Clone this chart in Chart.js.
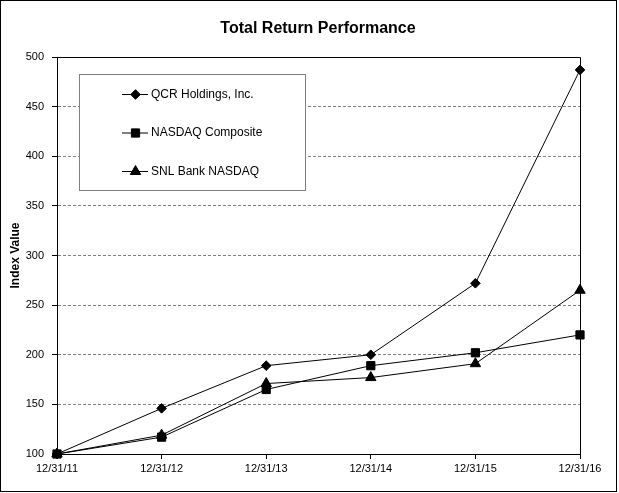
<!DOCTYPE html>
<html>
<head>
<meta charset="utf-8">
<script src="https://cdn.jsdelivr.net/npm/chart.js@4.4.1/dist/chart.umd.min.js"></script>
<style>
  html, body { margin: 0; padding: 0; background: #fff; }
  #wrap { width: 619px; height: 493px; }
</style>
</head>
<body>
<div id="wrap"><canvas id="c" width="619" height="493"></canvas></div>
<script>
const categories = ['12/31/11', '12/31/12', '12/31/13', '12/31/14', '12/31/15', '12/31/16'];
const qcrValues = [100, 146, 189, 200, 272, 487];
const nasdaqValues = [100, 117, 165, 189, 202, 220];
const snlValues = [100, 119, 171, 177, 191, 265];
const seriesNames = ['QCR Holdings, Inc.', 'NASDAQ Composite', 'SNL Bank NASDAQ'];
const yTicks = [100, 150, 200, 250, 300, 350, 400, 450, 500];
const chartTitle = 'Total Return Performance';

const FONT = '"Liberation Sans", Arial, Helvetica, sans-serif';

function ds(label, data, style, radius, order) {
  return {
    label: label,
    data: data,
    order: order,
    borderColor: '#000',
    backgroundColor: '#000',
    borderWidth: 1,
    pointStyle: style,
    pointRadius: radius,
    pointHoverRadius: radius,
    pointBackgroundColor: '#000',
    pointBorderColor: '#000',
    pointBorderWidth: 1,
    tension: 0,
    clip: false
  };
}

const bgPlugin = {
  id: 'bg',
  beforeDraw(chart) {
    const ctx = chart.ctx;
    ctx.save();
    ctx.fillStyle = '#fff';
    ctx.fillRect(0, 0, chart.width, chart.height);
    ctx.restore();
  },
  beforeDatasetsDraw(chart) {
    const ctx = chart.ctx, a = chart.chartArea;
    ctx.save();
    ctx.strokeStyle = '#000';
    ctx.lineWidth = 1;
    ctx.beginPath();
    ctx.moveTo(Math.round(a.left) + 0.5, Math.round(a.top) + 0.5);
    ctx.lineTo(Math.round(a.right) + 0.5, Math.round(a.top) + 0.5);
    ctx.lineTo(Math.round(a.right) + 0.5, Math.round(a.bottom) + 0.5);
    ctx.stroke();
    ctx.restore();
  },
  afterDraw(chart) {
    const ctx = chart.ctx;
    ctx.save();
    // outer frame
    ctx.strokeStyle = '#000';
    ctx.lineWidth = 1;
    ctx.strokeRect(0.5, 0.5, 616, 491);
    // title
    ctx.fillStyle = '#000';
    ctx.font = 'bold 16px ' + FONT;
    ctx.textAlign = 'center';
    ctx.textBaseline = 'alphabetic';
    ctx.fillText(chartTitle, 318, 33);
    // legend box
    const bx = 79.5, by = 74.5, bw = 226, bh = 116;
    ctx.fillStyle = '#fff';
    ctx.fillRect(bx, by, bw, bh);
    ctx.strokeStyle = '#808080';
    ctx.strokeRect(bx, by, bw, bh);
    const ys = [94, 132.5, 171];
    chart.data.datasets.forEach((d, i) => {
      const y = ys[i] + 0.5;
      ctx.strokeStyle = '#000';
      ctx.lineWidth = 1;
      ctx.beginPath();
      ctx.moveTo(122, y);
      ctx.lineTo(148, y);
      ctx.stroke();
      ctx.fillStyle = '#000';
      const opts = { pointStyle: d.pointStyle, radius: d.pointRadius, rotation: 0, borderWidth: 1 };
      if (Chart.helpers && Chart.helpers.drawPoint) {
        Chart.helpers.drawPoint(ctx, opts, 135.5, y);
      }
      ctx.font = '12px ' + FONT;
      ctx.textAlign = 'left';
      ctx.textBaseline = 'middle';
      ctx.fillStyle = '#000';
      ctx.fillText(d.label, 151, y);
    });
    ctx.restore();
  }
};

new Chart(document.getElementById('c'), {
  type: 'line',
  data: {
    labels: categories,
    datasets: [
      ds(seriesNames[0], qcrValues, 'rectRot', 4.8, 1),
      ds(seriesNames[1], nasdaqValues, 'rect', 5.8, 0),
      ds(seriesNames[2], snlValues, 'triangle', 6, 2)
    ]
  },
  options: {
    responsive: false,
    animation: false,
    devicePixelRatio: 1,
    layout: { padding: { left: 2, right: 39, top: 57, bottom: 19 } },
    plugins: {
      legend: { display: false },
      tooltip: { enabled: false },
      title: { display: false }
    },
    scales: {
      x: {
        type: 'category',
        offset: false,
        grid: {
          display: true,
          drawOnChartArea: false,
          drawTicks: true,
          tickLength: 5,
          tickColor: '#000'
        },
        border: { display: true, color: '#000', width: 1 },
        ticks: {
          color: '#000',
          font: { family: FONT, size: 11 },
          padding: 3,
          maxRotation: 0,
          minRotation: 0,
          autoSkip: false
        },
        afterFit(s) { s.height = 20; }
      },
      y: {
        type: 'linear',
        min: 100,
        max: 500,
        afterBuildTicks(s) { s.ticks = yTicks.map(v => ({ value: v })); },
        grid: {
          color: (c) => (c.tick && (c.tick.value === 100 || c.tick.value === 500)) ? 'rgba(0,0,0,0)' : '#808080',
          lineWidth: 1,
          drawTicks: true,
          tickLength: 5,
          tickColor: '#000'
        },
        border: { display: true, color: '#000', width: 1, dash: [3, 2] },
        ticks: {
          color: '#000',
          font: { family: FONT, size: 11 },
          padding: 8
        },
        title: {
          display: true,
          text: 'Index Value',
          color: '#000',
          font: { family: FONT, size: 12, weight: 'bold', lineHeight: 1.2 },
          padding: { top: 6, bottom: 0 }
        },
        afterFit(s) { s.width = 55; }
      }
    }
  },
  plugins: [bgPlugin]
});
</script>
</body>
</html>
